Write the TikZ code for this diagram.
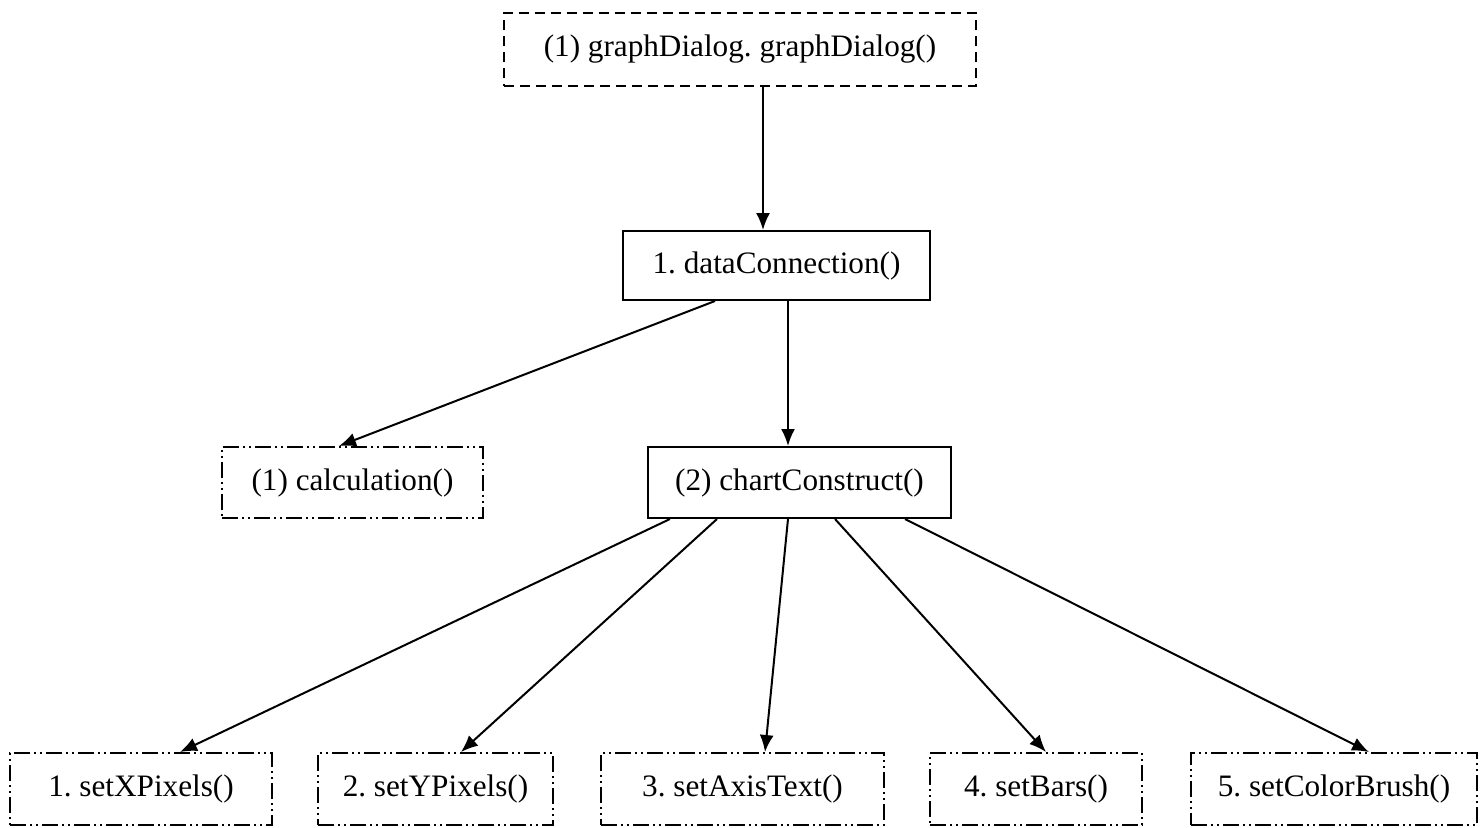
\documentclass[tikz,border=0pt]{standalone}
\usepackage{fontspec}
\setmainfont{Liberation Serif}
\usetikzlibrary{arrows.meta,calc}
\begin{document}
\frenchspacing
\begin{tikzpicture}[x=0.5pt,y=-0.5pt,
  box/.style={draw,line width=1pt,inner sep=0pt,font=\fontsize{15.6}{18}\selectfont,minimum height=36pt},
  solidbox/.style={box},
  dashbox/.style={box,dash pattern=on 5pt off 3pt},
  dotbox/.style={box,dash pattern=on 8pt off 2pt on 1pt off 2pt on 1pt off 2pt},
  arr/.style={line width=1pt,-{Latex[length=8.5pt,width=7pt]}}]
\useasboundingbox (0,0) rectangle (1483,827);

% call hierarchy
\node[dashbox,minimum width=236pt,minimum height=36.5pt] (top) at (740,49.5) {(1) graphDialog. graphDialog()};
\node[solidbox,minimum width=153.5pt,minimum height=34.5pt] (dc) at (776.5,265.5) {1. dataConnection()};
\node[dotbox,minimum width=130.5pt,minimum height=35.5pt] (calc) at (352.5,482.5) {(1) calculation()};
\node[solidbox,minimum width=151.5pt,minimum height=35.5pt] (cc) at (799.5,482.5) {(2) chartConstruct()};

\node[dotbox,minimum width=131pt] (l1) at (141,789) {1. setXPixels()};
\node[dotbox,minimum width=117.5pt] (l2) at (435.5,789) {2. setYPixels()};
\node[dotbox,minimum width=141.5pt] (l3) at (742.5,789) {3. setAxisText()};
\node[dotbox,minimum width=106pt] (l4) at (1036,789) {4. setBars()};
\node[dotbox,minimum width=143pt] (l5) at (1334,789) {5. setColorBrush()};

\draw[arr] ($(top.south west)+(260,0)$) -- ($(dc.north west)+(141,0)$);
\draw[arr] ($(dc.south west)+(93,0)$) -- ($(calc.north west)+(118,0)$);
\draw[arr] ($(dc.south west)+(166,0)$) -- ($(cc.north west)+(141,0)$);

\draw[arr] ($(cc.south west)+(23,0)$) -- ($(l1.north west)+(171,0)$);
\draw[arr] ($(cc.south west)+(70,0)$) -- ($(l2.north west)+(144,0)$);
\draw[arr] ($(cc.south west)+(141,0)$) -- ($(l3.north west)+(165,0)$);
\draw[arr] ($(cc.south west)+(188,0)$) -- ($(l4.north west)+(117,0)$);
\draw[arr] ($(cc.south west)+(258,0)$) -- ($(l5.north west)+(179,0)$);
\end{tikzpicture}
\end{document}
